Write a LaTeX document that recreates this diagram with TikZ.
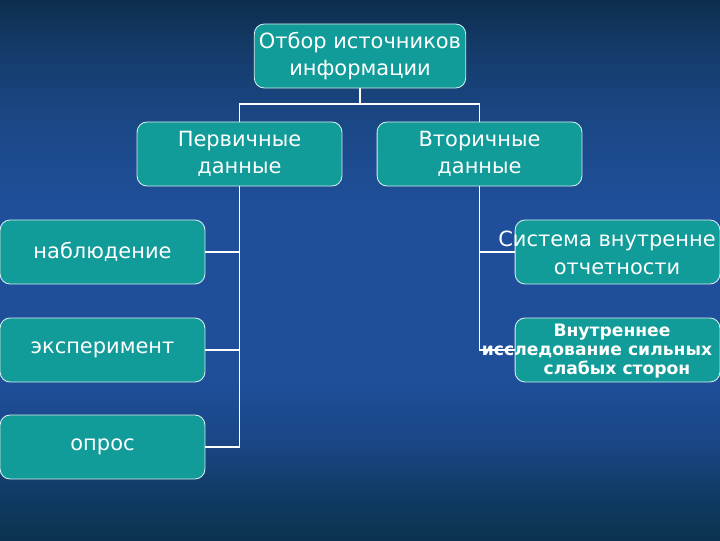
\documentclass[tikz,border=0pt]{standalone}
\usepackage{fontspec}
\setmainfont{DejaVu Sans}
\usepackage{xcolor}
\usetikzlibrary{positioning}
\definecolor{boxfill}{HTML}{119C99}
\definecolor{boxline}{HTML}{D8EEF0}
\definecolor{bgtop}{HTML}{0D2E4E}
\definecolor{bgupper}{HTML}{153C6C}
\definecolor{bgnear}{HTML}{1B4888}
\definecolor{bgcentre}{HTML}{1F4F9A}
\definecolor{bglower}{HTML}{1A4686}
\definecolor{bgdeep}{HTML}{0F3A62}
\definecolor{bgfoot}{HTML}{0B3350}
% only 25bp..75bp of the shading covers the picture
\pgfdeclareverticalshading{slidebg}{100bp}{
    color(0bp)=(bgfoot); color(25bp)=(bgfoot); color(29bp)=(bgdeep); color(34bp)=(bglower);
    color(40bp)=(bgcentre); color(56bp)=(bgcentre); color(63bp)=(bgnear);
    color(70bp)=(bgupper); color(75bp)=(bgtop); color(100bp)=(bgtop)}

\begin{document}
\begin{tikzpicture}[x=0.025cm, y=-0.025cm, thick,
    infobox/.style={draw=boxline, line width=0.6pt, fill=boxfill, rounded corners=0.25cm,
        minimum width=5.12cm, minimum height=1.6cm, text=white, align=center,
        font=\fontsize{14.9}{19.5}\selectfont},
    boxtext/.style={text=white, align=center, inner sep=0pt, font=\fontsize{14.9}{19.5}\selectfont},
    smalltext/.style={boxtext, font=\fontsize{12.2}{13.6}\selectfont\bfseries},
    link/.style={draw=white, line width=1.4pt}]
    % Background
    \useasboundingbox (0,0) rectangle (720,540);
    \clip (0,0) rectangle (720,540);
    \shade[shading=slidebg] (0,0) rectangle (720,540);

    % Top level
    \node (source) [infobox] at (360,56) {Отбор источников\\информации};

    % Second level
    \node (primary) [infobox] at (239.5,154) {Первичные\\данные};
    \node (secondary) [infobox] at (479.5,154) {Вторичные\\данные};

    % Primary data methods
    \node (observe) [infobox] at (102.5,252) {наблюдение};
    \node (experiment) [infobox] at (102.5,350) {эксперимент};
    \node (survey) [infobox] at (102.5,447) {опрос};

    % Secondary data sources
    \node (reporting) [infobox] at (617.5,252) {};
    \node (reporting_text) [boxtext] at (617,253) {Система внутренне\hspace*{0.5cm}\mbox{}\\отчетности};
    \node (swot) [infobox] at (617.5,350) {};
    \node (swot_text) [smalltext] at (612,351) {Внутреннее\\исследование сильных\hspace*{0.75cm}\mbox{}\\\mbox{}\hspace*{0.25cm}слабых сторон};

    % Connectors
    \coordinate (split) at (360,104);
    \draw [link] (source.south) -- (split);
    \draw [link] (primary.north) |- (split) -| (secondary.north);
    \draw [link] (primary.south) |- (observe.east);
    \draw [link] (primary.south) |- (experiment.east);
    \draw [link] (primary.south) |- (survey.east);
    \draw [link] (secondary.south) |- (reporting.west);
    \draw [link] (secondary.south) |- (swot.west);

\end{tikzpicture}
\end{document}
